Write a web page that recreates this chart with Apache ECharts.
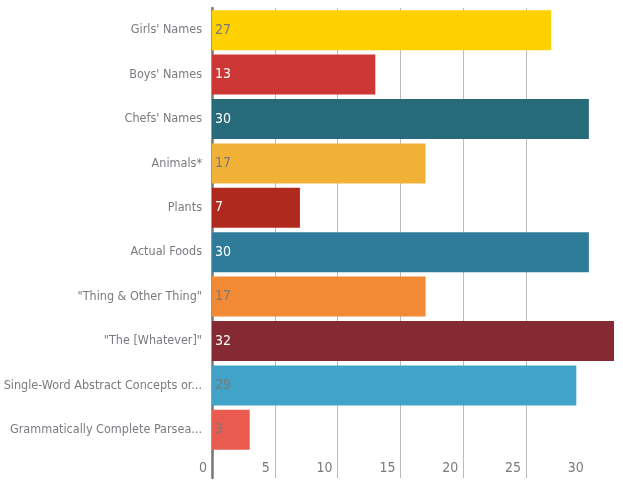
<!DOCTYPE html>
<html>
<head>
<meta charset="utf-8">
<script src="https://cdn.jsdelivr.net/npm/echarts@6/dist/echarts.min.js"></script>
<style>
  html, body { margin: 0; padding: 0; background: #fff; }
  #chart { width: 623px; height: 488px; }
</style>
</head>
<body>
<div id="chart"></div>
<script>
const categories = [
  "Girls' Names",
  "Boys' Names",
  "Chefs' Names",
  "Animals*",
  "Plants",
  "Actual Foods",
  "\"Thing & Other Thing\"",
  "\"The [Whatever]\"",
  "Single-Word Abstract Concepts or...",
  "Grammatically Complete Parsea..."
];
const values = [27, 13, 30, 17, 7, 30, 17, 32, 29, 3];
const xTicks = [0, 5, 10, 15, 20, 25, 30];

const palette = ['#ffd100', '#cc3735', '#286c7b', '#f1b036', '#b0291f',
                 '#2f7c9a', '#f28a35', '#852a33', '#42a3c8', '#ea5b4f'];
const labelColors = ['#7a7a7a', '#ffffff', '#ffffff', '#7a7a7a', '#ffffff',
                     '#ffffff', '#7a7a7a', '#ffffff', '#7a7a7a', '#7a7a7a'];

const FONT = '"DejaVu Sans Condensed", "Roboto", sans-serif';
const xMax = 32;

const chart = echarts.init(document.getElementById('chart'), null, { renderer: 'canvas' });
chart.setOption({
  animation: false,
  backgroundColor: '#ffffff',
  grid: [
    { left: 212, right: 9, top: 8, bottom: 36, containLabel: false, outerBoundsMode: 'none' },
    { left: 212, right: 9, top: 452, bottom: 10, containLabel: false, outerBoundsMode: 'none' }
  ],
  xAxis: [
    {
      gridIndex: 0, type: 'value', min: 0, max: xMax, interval: 5,
      axisLine: { show: false },
      axisTick: { show: false, customValues: xTicks },
      splitLine: { show: true, showMaxLine: false, lineStyle: { color: '#bbbbbb', width: 1 } },
      axisLabel: {
        show: true, margin: 9, align: 'right', padding: [0, 5, 0, 0],
        color: '#7a7a7a', fontFamily: FONT, fontSize: 14,
        customValues: xTicks
      }
    },
    {
      gridIndex: 1, type: 'value', min: 0, max: xMax, interval: 5,
      axisLine: { show: false },
      axisTick: { show: false, customValues: xTicks },
      axisLabel: { show: false, customValues: xTicks },
      splitLine: { show: true, showMaxLine: false, lineStyle: { color: '#bbbbbb', width: 1 } }
    }
  ],
  yAxis: [
    {
      gridIndex: 0, type: 'category', data: categories, inverse: true,
      axisLine: { show: true, lineStyle: { color: '#777777', width: 2.5 } },
      axisTick: { show: false },
      axisLabel: { margin: 10, color: '#7a7a80', fontFamily: FONT, fontSize: 12.5 }
    },
    {
      gridIndex: 1, type: 'category', data: [''],
      axisLine: { show: true, lineStyle: { color: '#777777', width: 2.5 } },
      axisTick: { show: false }, axisLabel: { show: false }
    }
  ],
  series: [{
    type: 'bar',
    xAxisIndex: 0, yAxisIndex: 0,
    barWidth: 40,
    data: values.map((v, i) => ({
      value: v,
      itemStyle: { color: palette[i] },
      label: { color: labelColors[i] }
    })),
    label: {
      show: true, position: 'insideLeft', distance: 3,
      fontFamily: FONT, fontSize: 14
    }
  }]
});
</script>
</body>
</html>
